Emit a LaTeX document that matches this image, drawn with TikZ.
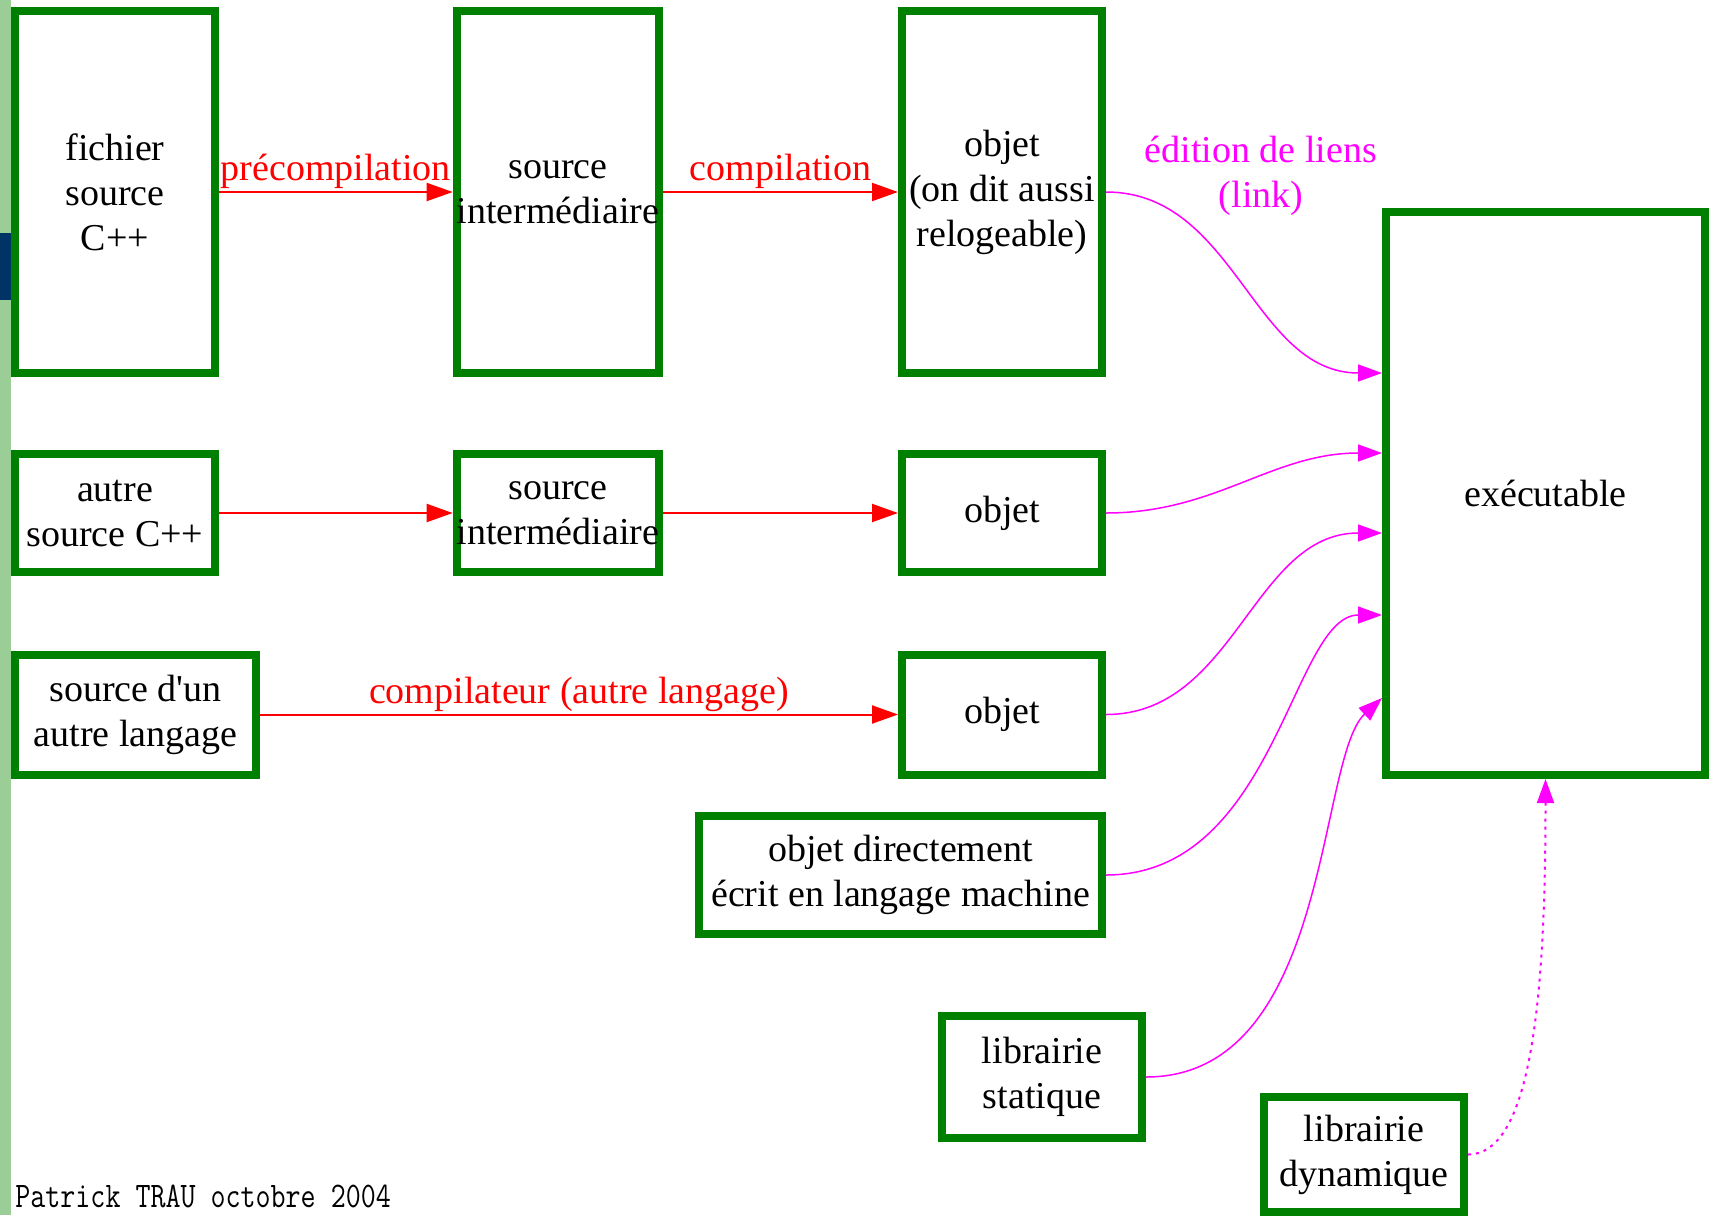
\documentclass[tikz,border=0pt]{standalone}
\usepackage{fontspec}
\setmainfont{Liberation Serif}[Ligatures=TeXOff]
\usetikzlibrary{arrows.meta}
\definecolor{stripgreen}{RGB}{155,205,150}
\definecolor{stripblue}{RGB}{0,51,102}
\definecolor{linkpink}{RGB}{255,0,255}
\definecolor{flowred}{RGB}{255,0,0}

\begin{document}
\begin{tikzpicture}[x=0.5pt,y=-0.5pt,
        every node/.style={font=\fontsize{19}{22.5}\selectfont},
        box/.style={draw=green!50!black,line width=4pt,align=center,inner sep=0pt},
        tall/.style={box,minimum width=100pt,minimum height=181pt},
        flat/.style={box,minimum width=100pt,minimum height=59pt},
        flow/.style={flowred,line width=1pt,-{Triangle[length=13pt,width=9pt]}},
        link/.style={linkpink,line width=0.75pt,-{Triangle[length=12pt,width=8.5pt]}}]
        \useasboundingbox (0,0) rectangle (1716,1215);
        \fill[stripgreen] (0,0) rectangle (11,1215);
        \fill[stripblue] (0,233) rectangle (11,300);

        \node[tall] (fichier) at (115, 192) {fichier\\source\\C++};
        \node[tall] (inter1) at (558, 192) {source\\intermédiaire};
        \node[tall] (objet1) at (1002, 192) {objet\\(on dit aussi\\relogeable)};

        \node[flat] (autre) at (115, 513) {autre\\source C++};
        \node[flat] (inter2) at (558, 513) {source\\intermédiaire};
        \node[flat] (objet2) at (1002, 513) {objet};

        \node[box,minimum width=120.5pt,minimum height=60pt] (langage) at (135.5, 714.5) {source d'un\\autre langage};
        \node[box,minimum width=100pt,minimum height=60pt] (objet3) at (1002, 714.5) {objet};

        \node[box,minimum width=201.5pt,minimum height=59pt] (direct) at (900.5, 875) {objet directement\\écrit en langage machine};
        \node[box,minimum width=100pt,minimum height=61pt] (statique) at (1042, 1077) {librairie\\statique};
        \node[box,minimum width=100pt,minimum height=57.5pt] (dynamique) at (1364, 1154.5) {librairie\\dynamique};

        \node[box,minimum width=159.5pt,minimum height=281.5pt] (exec) at (1545.5, 493.5) {exécutable};

        \draw[flow] (fichier) -- node[above,inner sep=1pt] {précompilation} (inter1);
        \draw[flow] (inter1) -- node[above,inner sep=1pt] {compilation} (objet1);
        \draw[flow] (autre) -- (inter2);
        \draw[flow] (inter2) -- (objet2);
        \draw[flow] (langage) -- node[above,inner sep=1pt] {compilateur (autre langage)} (objet3);

        \node[linkpink,align=center] (edition) at (1261, 176) {édition de liens\\(link)};

        \draw[link] (objet1.east) to[out=0,in=180] ([yshift=60.25pt]exec.west);
        \draw[link] (objet2.east) to[out=0,in=180] ([yshift=20.25pt]exec.west);
        \draw[link] (objet3.east) to[out=0,in=180] ([yshift=-19.75pt]exec.west);
        \draw[link] (direct.east) .. controls +(170,0) and +(-90,0) .. ([yshift=-60.75pt]exec.west);
        \draw[link] (statique.east) .. controls +(185,0) and +(-65,60) .. ([yshift=-102.25pt]exec.west);
        \draw[link,line width=1pt,dash pattern=on 1.5pt off 2.5pt] (dynamique.east) .. controls +(63,0) and +(0,221) .. (exec.south);

        \node[anchor=base west,inner sep=0pt,font=\ttfamily\fontsize{18}{20}\selectfont] (auteur) at (15, 1207) {\scalebox{0.81}[1]{Patrick TRAU octobre 2004}};
    \end{tikzpicture}
\end{document}
